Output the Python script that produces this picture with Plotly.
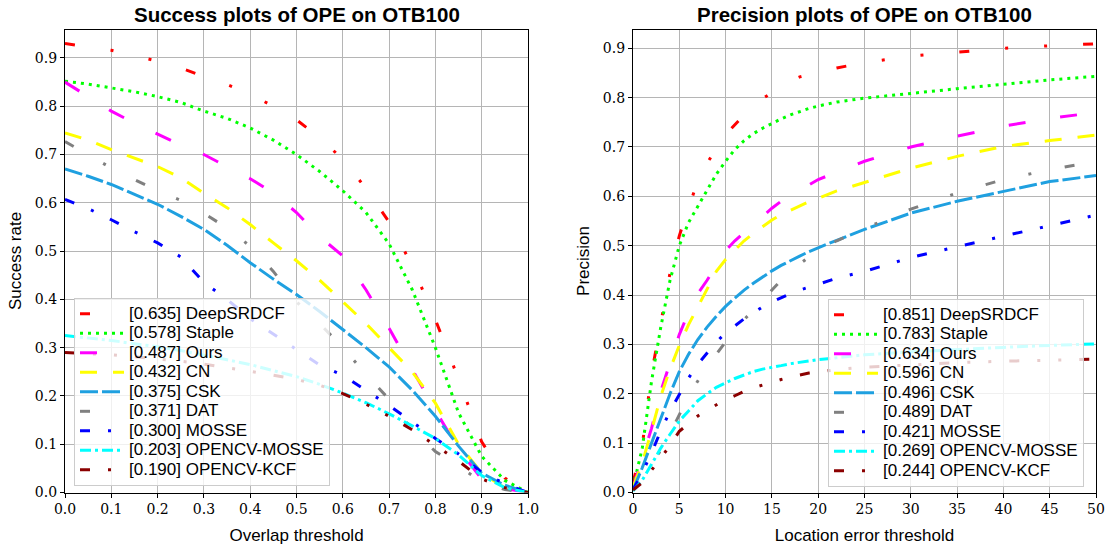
import plotly.graph_objects as go

# ---------------- data ----------------
trackers = ["DeepSRDCF", "Staple", "Ours", "CN", "CSK", "DAT", "MOSSE",
            "OPENCV-MOSSE", "OPENCV-KCF"]
success_auc = [0.635, 0.578, 0.487, 0.432, 0.375, 0.371, 0.300, 0.203, 0.190]
precision_score = [0.851, 0.783, 0.634, 0.596, 0.496, 0.489, 0.421, 0.269, 0.244]

overlap_thresholds = [0.0, 0.05, 0.1, 0.15, 0.2, 0.25, 0.3, 0.35, 0.4, 0.45, 0.5,
                      0.55, 0.6, 0.65, 0.7, 0.75, 0.8, 0.85, 0.9, 0.95, 1.0]
success_deepsrdcf = [0.930, 0.923, 0.916, 0.905, 0.893, 0.879, 0.862, 0.845, 0.825, 0.800, 0.772,
                     0.735, 0.690, 0.630, 0.560, 0.470, 0.358, 0.235, 0.105, 0.030, 0.000]
success_staple = [0.852, 0.846, 0.838, 0.830, 0.820, 0.808, 0.790, 0.775, 0.755, 0.730, 0.700,
                  0.665, 0.625, 0.580, 0.515, 0.420, 0.300, 0.165, 0.075, 0.025, 0.000]
success_ours = [0.850, 0.820, 0.790, 0.765, 0.742, 0.720, 0.700, 0.675, 0.650, 0.620, 0.580,
                0.530, 0.490, 0.420, 0.340, 0.255, 0.170, 0.090, 0.028, 0.008, 0.000]
success_cn = [0.745, 0.730, 0.710, 0.692, 0.675, 0.652, 0.620, 0.590, 0.555, 0.517, 0.480,
              0.440, 0.395, 0.350, 0.300, 0.250, 0.185, 0.100, 0.040, 0.010, 0.000]
success_csk = [0.670, 0.655, 0.638, 0.618, 0.597, 0.572, 0.545, 0.512, 0.476, 0.442, 0.410,
               0.375, 0.337, 0.300, 0.260, 0.212, 0.158, 0.096, 0.040, 0.015, 0.000]
success_dat = [0.727, 0.700, 0.672, 0.648, 0.625, 0.605, 0.578, 0.548, 0.510, 0.458, 0.395,
               0.350, 0.300, 0.245, 0.193, 0.130, 0.085, 0.055, 0.022, 0.006, 0.000]
success_mosse = [0.607, 0.588, 0.565, 0.540, 0.517, 0.488, 0.435, 0.400, 0.360, 0.328, 0.296,
                 0.264, 0.243, 0.212, 0.180, 0.146, 0.112, 0.080, 0.042, 0.018, 0.000]
success_ocv_mosse = [0.325, 0.320, 0.315, 0.308, 0.302, 0.294, 0.285, 0.275, 0.265, 0.252, 0.240,
                     0.224, 0.206, 0.186, 0.163, 0.138, 0.112, 0.078, 0.035, 0.010, 0.000]
success_ocv_kcf = [0.290, 0.288, 0.285, 0.281, 0.277, 0.272, 0.266, 0.259, 0.251, 0.243, 0.234,
                   0.222, 0.205, 0.183, 0.158, 0.130, 0.098, 0.065, 0.028, 0.010, 0.000]

location_thresholds = [0, 1, 2, 3, 4, 5, 6, 7, 8, 9, 10, 11, 12, 13, 14, 15, 16, 17, 18, 19, 20,
                       22, 25, 30, 35, 40, 45, 50]
prec_deepsrdcf = [0.02, 0.095, 0.24, 0.345, 0.445, 0.52, 0.578, 0.63, 0.667, 0.697, 0.725,
                  0.745, 0.765, 0.784, 0.798, 0.81, 0.823, 0.834, 0.842, 0.847, 0.851,
                  0.86, 0.871, 0.884, 0.892, 0.90, 0.905, 0.909]
prec_staple = [0.01, 0.09, 0.225, 0.335, 0.43, 0.50, 0.547, 0.58, 0.615, 0.645, 0.671,
               0.695, 0.713, 0.727, 0.738, 0.748, 0.757, 0.765, 0.772, 0.778, 0.783,
               0.791, 0.799, 0.809, 0.818, 0.827, 0.836, 0.843]
prec_ours = [0.01, 0.07, 0.13, 0.205, 0.265, 0.32, 0.365, 0.403, 0.43, 0.46, 0.49,
             0.51, 0.527, 0.544, 0.56, 0.576, 0.59, 0.601, 0.612, 0.623, 0.634,
             0.649, 0.671, 0.70, 0.722, 0.742, 0.758, 0.77]
prec_cn = [0.01, 0.06, 0.125, 0.195, 0.25, 0.298, 0.34, 0.375, 0.413, 0.448, 0.472,
           0.49, 0.51, 0.525, 0.539, 0.552, 0.563, 0.572, 0.58, 0.589, 0.596,
           0.611, 0.628, 0.657, 0.681, 0.701, 0.713, 0.724]
prec_csk = [0.005, 0.05, 0.10, 0.15, 0.20, 0.245, 0.28, 0.31, 0.335, 0.357, 0.377,
            0.394, 0.41, 0.424, 0.437, 0.449, 0.46, 0.47, 0.479, 0.488, 0.496,
            0.511, 0.533, 0.566, 0.59, 0.61, 0.63, 0.642]
prec_dat = [0.005, 0.03, 0.06, 0.085, 0.12, 0.158, 0.195, 0.226, 0.255, 0.28, 0.306,
            0.33, 0.35, 0.37, 0.39, 0.408, 0.43, 0.447, 0.463, 0.477, 0.489,
            0.51, 0.535, 0.574, 0.607, 0.634, 0.654, 0.671]
prec_mosse = [0.005, 0.04, 0.08, 0.125, 0.165, 0.2, 0.232, 0.26, 0.283, 0.305, 0.323,
              0.338, 0.352, 0.364, 0.376, 0.386, 0.395, 0.403, 0.41, 0.416, 0.421,
              0.434, 0.448, 0.476, 0.498, 0.519, 0.54, 0.562]
prec_ocv_mosse = [0.003, 0.025, 0.057, 0.09, 0.118, 0.145, 0.165, 0.186, 0.2, 0.213, 0.222,
                  0.231, 0.238, 0.245, 0.25, 0.253, 0.257, 0.261, 0.264, 0.267, 0.269,
                  0.273, 0.279, 0.285, 0.29, 0.294, 0.298, 0.301]
prec_ocv_kcf = [0.005, 0.02, 0.045, 0.07, 0.095, 0.124, 0.14, 0.155, 0.167, 0.178, 0.188,
                0.196, 0.205, 0.212, 0.218, 0.223, 0.229, 0.234, 0.238, 0.242, 0.244,
                0.249, 0.254, 0.259, 0.263, 0.266, 0.268, 0.27]

success_curves = [success_deepsrdcf, success_staple, success_ours, success_cn, success_csk,
                  success_dat, success_mosse, success_ocv_mosse, success_ocv_kcf]
precision_curves = [prec_deepsrdcf, prec_staple, prec_ours, prec_cn, prec_csk,
                    prec_dat, prec_mosse, prec_ocv_mosse, prec_ocv_kcf]

# ---------------- styles ----------------
colors = ["#ff0000", "#00ff00", "#ff00ff", "#ffff00", "#1fa0e0",
          "#808080", "#0000ff", "#00ffff", "#8b0000"]
dashes = ["10px,36px,3px,36px,3px,36px", "3px,5px", "17px,35px", "17px,16px", "18px,4px",
          "10px,34px,3px,34px", "10px,18px,3px,18px", "11px,4px,3px,4px",
          "10px,18px,3px,18px,3px,18px"]

W, H = 1113, 548
fig = go.Figure()

def label(score, name):
    return '<span style="font-size:17px">[%.3f] %s</span>' % (score, name)

for i, name in enumerate(trackers):
    fig.add_trace(go.Scatter(
        x=overlap_thresholds, y=success_curves[i], mode="lines",
        name=label(success_auc[i], name), legend="legend",
        line=dict(color=colors[i], width=3, dash=dashes[i]),
        xaxis="x", yaxis="y"))
for i, name in enumerate(trackers):
    fig.add_trace(go.Scatter(
        x=location_thresholds, y=precision_curves[i], mode="lines",
        name=label(precision_score[i], name), legend="legend2",
        line=dict(color=colors[i], width=3, dash=dashes[i]),
        xaxis="x2", yaxis="y2"))

tick_font = dict(family="DejaVu Serif", size=14, color="black")
title_font = dict(family="Liberation Sans", size=17, color="black")
grid = dict(showgrid=True, gridcolor="#b5b5b5", gridwidth=1, zeroline=False,
            showline=True, linecolor="black", linewidth=1.2, mirror=True,
            ticks="outside", ticklen=4, tickcolor="black", tickfont=tick_font,
            automargin=False)

ydom = [(H - 492.5) / H, (H - 29.5) / H]
fig.update_layout(
    width=W, height=H,
    margin=dict(l=0, r=0, t=0, b=0),
    paper_bgcolor="white", plot_bgcolor="white",
    xaxis=dict(domain=[65 / W, 528 / W], range=[0, 1], dtick=0.1, tickformat=".1f",
               title=dict(text="Overlap threshold", font=title_font, standoff=12),
               anchor="y", **grid),
    yaxis=dict(domain=ydom, range=[0, 0.959], dtick=0.1, tickformat=".1f",
               title=dict(text="Success rate", font=title_font, standoff=8),
               anchor="x", **grid),
    xaxis2=dict(domain=[633 / W, 1096 / W], range=[0, 50], dtick=5,
                title=dict(text="Location error threshold", font=title_font, standoff=12),
                anchor="y2", **grid),
    yaxis2=dict(domain=ydom, range=[0, 0.938], dtick=0.1, tickformat=".1f",
                title=dict(text="Precision", font=title_font, standoff=8),
                anchor="x2", **grid),
    legend=dict(x=74 / W, y=(H - 298) / H, xanchor="left", yanchor="top",
                bgcolor="rgba(255,255,255,0.8)", bordercolor="#cccccc", borderwidth=1,
                font=dict(family="Liberation Sans", size=12.7, color="black"),
                itemwidth=44, tracegroupgap=0),
    legend2=dict(x=828 / W, y=(H - 299) / H, xanchor="left", yanchor="top",
                 bgcolor="rgba(255,255,255,0.8)", bordercolor="#cccccc", borderwidth=1,
                 font=dict(family="Liberation Sans", size=12.7, color="black"),
                 itemwidth=44, tracegroupgap=0),
    annotations=[
        dict(text="<b>Success plots of OPE on OTB100</b>", x=296.5 / W, y=(H - 14) / H,
             xref="paper", yref="paper", xanchor="center", yanchor="middle",
             showarrow=False, font=dict(family="Liberation Sans", size=20.5, color="black")),
        dict(text="<b>Precision plots of OPE on OTB100</b>", x=864.5 / W, y=(H - 14) / H,
             xref="paper", yref="paper", xanchor="center", yanchor="middle",
             showarrow=False, font=dict(family="Liberation Sans", size=20.5, color="black")),
    ],
)

fig.write_html("out.html")
